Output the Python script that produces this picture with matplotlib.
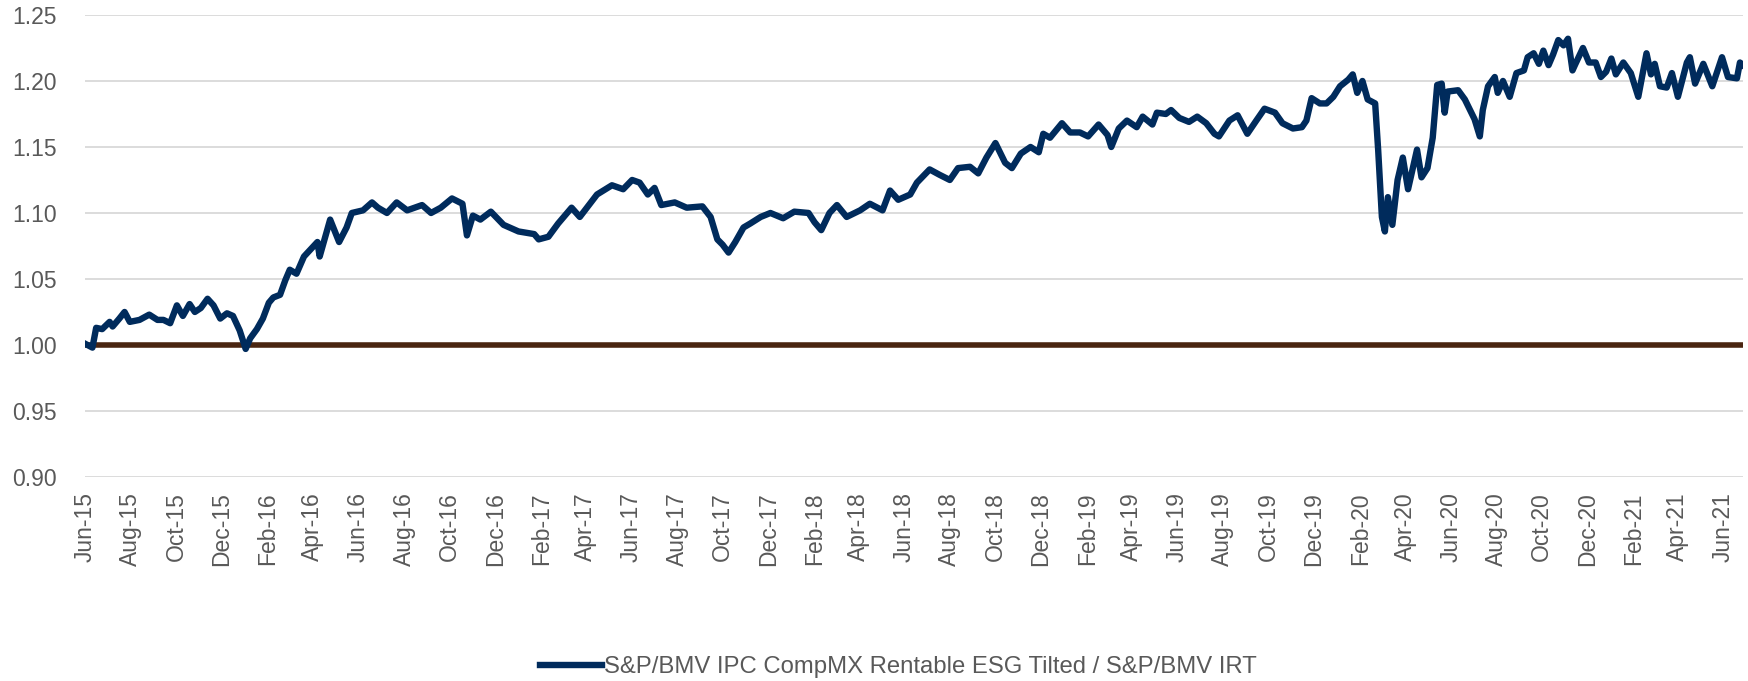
import numpy as np
import pandas as pd
import matplotlib
matplotlib.use("Agg")
import matplotlib.pyplot as plt
import matplotlib.dates as mdates

plt.rcParams['font.family'] = ['Liberation Sans', 'DejaVu Sans']

# relative performance (ratio of the two indices)
fechas = [
    "2015-06-01", "2015-06-11", "2015-06-16", "2015-06-24", "2015-07-04", "2015-07-08",
    "2015-07-17", "2015-07-24", "2015-07-31", "2015-08-13", "2015-08-26", "2015-09-06",
    "2015-09-14", "2015-09-23", "2015-10-02", "2015-10-10", "2015-10-19", "2015-10-26",
    "2015-11-03", "2015-11-12", "2015-11-20", "2015-11-29", "2015-12-08", "2015-12-16",
    "2015-12-25", "2016-01-02", "2016-01-08", "2016-01-17", "2016-01-25", "2016-02-02",
    "2016-02-08", "2016-02-17", "2016-02-24", "2016-03-01", "2016-03-10", "2016-03-20",
    "2016-04-07", "2016-04-10", "2016-04-24", "2016-05-06", "2016-05-16", "2016-05-23",
    "2016-06-07", "2016-06-19", "2016-06-27", "2016-07-09", "2016-07-22", "2016-08-05",
    "2016-08-25", "2016-09-06", "2016-09-19", "2016-10-04", "2016-10-18", "2016-10-24",
    "2016-11-01", "2016-11-11", "2016-11-25", "2016-12-12", "2017-01-01", "2017-01-22",
    "2017-01-28", "2017-02-10", "2017-02-23", "2017-03-13", "2017-03-24", "2017-04-16",
    "2017-05-06", "2017-05-21", "2017-06-02", "2017-06-12", "2017-06-23", "2017-07-02",
    "2017-07-11", "2017-07-29", "2017-08-14", "2017-09-04", "2017-09-15", "2017-09-24",
    "2017-10-01", "2017-10-09", "2017-10-18", "2017-10-29", "2017-11-07", "2017-11-21",
    "2017-12-04", "2017-12-21", "2018-01-05", "2018-01-24", "2018-02-01", "2018-02-10",
    "2018-02-21", "2018-03-03", "2018-03-16", "2018-04-03", "2018-04-16", "2018-05-03",
    "2018-05-13", "2018-05-24", "2018-06-09", "2018-06-18", "2018-07-05", "2018-07-18",
    "2018-08-01", "2018-08-12", "2018-08-28", "2018-09-08", "2018-09-19", "2018-10-01",
    "2018-10-14", "2018-10-23", "2018-11-04", "2018-11-17", "2018-11-28", "2018-12-04",
    "2018-12-13", "2018-12-29", "2019-01-09", "2019-01-22", "2019-02-02", "2019-02-16",
    "2019-02-28", "2019-03-05", "2019-03-15", "2019-03-26", "2019-04-08", "2019-04-16",
    "2019-04-29", "2019-05-05", "2019-05-17", "2019-05-24", "2019-06-04", "2019-06-17",
    "2019-06-28", "2019-07-10", "2019-07-21", "2019-07-27", "2019-08-10", "2019-08-21",
    "2019-09-03", "2019-09-15", "2019-09-26", "2019-10-10", "2019-10-20", "2019-11-03",
    "2019-11-15", "2019-11-21", "2019-11-28", "2019-12-09", "2019-12-18", "2019-12-27",
    "2020-01-05", "2020-01-16", "2020-01-22", "2020-01-28", "2020-02-04", "2020-02-11",
    "2020-02-21", "2020-02-25", "2020-03-01", "2020-03-05", "2020-03-09", "2020-03-15",
    "2020-03-22", "2020-03-29", "2020-04-05", "2020-04-17", "2020-04-23", "2020-05-01",
    "2020-05-08", "2020-05-14", "2020-05-20", "2020-05-24", "2020-05-28", "2020-06-11",
    "2020-06-20", "2020-06-27", "2020-07-03", "2020-07-10", "2020-07-14", "2020-07-21",
    "2020-07-30", "2020-08-03", "2020-08-10", "2020-08-19", "2020-08-28", "2020-09-07",
    "2020-09-12", "2020-09-20", "2020-09-27", "2020-10-03", "2020-10-10", "2020-10-16",
    "2020-10-23", "2020-10-30", "2020-11-05", "2020-11-11", "2020-11-15", "2020-11-25",
    "2020-12-03", "2020-12-12", "2020-12-19", "2020-12-26", "2021-01-02", "2021-01-08",
    "2021-01-18", "2021-01-28", "2021-02-07", "2021-02-18", "2021-02-24", "2021-03-01",
    "2021-03-08", "2021-03-17", "2021-03-24", "2021-04-01", "2021-04-13", "2021-04-17",
    "2021-04-24", "2021-05-05", "2021-05-17", "2021-05-30", "2021-06-07", "2021-06-19",
    "2021-06-23", "2021-06-27",
]
razon = [
    1.001, 0.998, 1.013, 1.012, 1.0175, 1.014,
    1.020, 1.025, 1.0175, 1.019, 1.023, 1.019,
    1.019, 1.0165, 1.030, 1.022, 1.031, 1.025,
    1.028, 1.035, 1.030, 1.020, 1.024, 1.022,
    1.011, 0.997, 1.005, 1.012, 1.020, 1.032,
    1.036, 1.038, 1.049, 1.057, 1.054, 1.067,
    1.078, 1.067, 1.095, 1.078, 1.089, 1.100,
    1.102, 1.108, 1.104, 1.100, 1.108, 1.102,
    1.106, 1.100, 1.104, 1.111, 1.107, 1.083,
    1.098, 1.095, 1.101, 1.091, 1.086, 1.084,
    1.080, 1.082, 1.092, 1.104, 1.097, 1.114,
    1.121, 1.118, 1.125, 1.123, 1.114, 1.119,
    1.106, 1.108, 1.104, 1.105, 1.097, 1.080,
    1.076, 1.070, 1.078, 1.089, 1.092, 1.097,
    1.100, 1.096, 1.101, 1.100, 1.093, 1.087,
    1.100, 1.106, 1.097, 1.102, 1.107, 1.102,
    1.117, 1.110, 1.114, 1.123, 1.133, 1.129,
    1.125, 1.134, 1.135, 1.130, 1.142, 1.153,
    1.138, 1.134, 1.145, 1.150, 1.146, 1.160,
    1.157, 1.168, 1.161, 1.161, 1.158, 1.167,
    1.159, 1.150, 1.164, 1.170, 1.165, 1.173,
    1.167, 1.176, 1.175, 1.178, 1.172, 1.169,
    1.173, 1.168, 1.160, 1.158, 1.170, 1.174,
    1.160, 1.170, 1.179, 1.176, 1.168, 1.164,
    1.165, 1.170, 1.187, 1.183, 1.183, 1.188,
    1.196, 1.201, 1.205, 1.191, 1.200, 1.186,
    1.183, 1.148, 1.097, 1.086, 1.112, 1.091,
    1.125, 1.142, 1.118, 1.148, 1.127, 1.134,
    1.157, 1.197, 1.198, 1.176, 1.192, 1.193,
    1.186, 1.178, 1.171, 1.158, 1.178, 1.196,
    1.203, 1.191, 1.200, 1.188, 1.206, 1.208,
    1.218, 1.221, 1.213, 1.223, 1.212, 1.220,
    1.231, 1.227, 1.232, 1.208, 1.213, 1.225,
    1.214, 1.214, 1.203, 1.207, 1.217, 1.205,
    1.214, 1.206, 1.188, 1.221, 1.205, 1.213,
    1.196, 1.195, 1.206, 1.188, 1.214, 1.218,
    1.198, 1.213, 1.196, 1.218, 1.203, 1.202,
    1.214, 1.212,
]
nivel_base = 1.00
naziv = "S&P/BMV IPC CompMX Rentable ESG Tilted / S&P/BMV IRT"

datumi = pd.to_datetime(fechas)

fig = plt.figure(figsize=(17.48, 6.81), dpi=100)
ax = fig.add_axes([0.0486, 0.2996, 0.9485, 0.6784])

siva = "#595959"
ax.axhline(nivel_base, color="#4A2511", lw=4.0, zorder=2, solid_capstyle="butt")
ax.plot(datumi, razon, color="#002B5C", lw=4.6, zorder=3, label=naziv,
        solid_joinstyle="round")

ax.set_ylim(0.90, 1.25)
ax.set_yticks(np.arange(0.90, 1.2501, 0.05))
ax.yaxis.set_major_formatter(plt.FormatStrFormatter("%.2f"))
ax.set_xlim(datumi[0], datumi[-1])
ax.xaxis.set_major_locator(mdates.MonthLocator(bymonth=[2, 4, 6, 8, 10, 12], bymonthday=1))
ax.xaxis.set_major_formatter(mdates.DateFormatter("%b-%y"))

ax.grid(True, axis="y", color="#D9D9D9", lw=1.3, zorder=0)
ax.set_axisbelow(True)
for s in ax.spines.values():
    s.set_visible(False)
ax.tick_params(axis="y", length=0, pad=20, labelsize=16.5, labelcolor=siva)
ax.tick_params(axis="x", length=0, pad=11, labelsize=16.5, labelcolor=siva, rotation=90)

fig.legend(loc="center", bbox_to_anchor=(0.514, 0.02), frameon=False,
           fontsize=17.2, labelcolor=siva, handlelength=2.6, handletextpad=0.1)

fig.savefig("out.png", dpi=100)
